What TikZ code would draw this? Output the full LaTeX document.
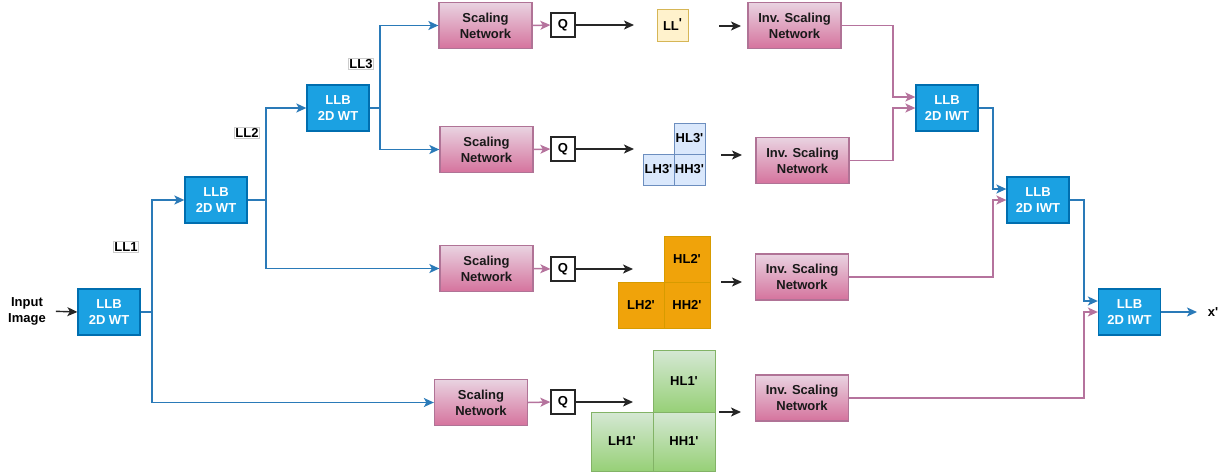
\documentclass[tikz,border=0pt]{standalone}
\usepackage{fontspec}
\setmainfont{Liberation Sans}[Ligatures=TeXOff]
\usetikzlibrary{arrows.meta,calc}
\definecolor{wtfill}{HTML}{1BA1E2}
\definecolor{wtline}{HTML}{006EAF}
\definecolor{bluearr}{HTML}{2A7AB8}
\definecolor{pinkarr}{HTML}{B5739D}
\definecolor{pinktop}{HTML}{E9D3E1}
\definecolor{pinkbot}{HTML}{D5739D}
\definecolor{pinkline}{HTML}{B07396}
\definecolor{yfill}{HTML}{FFF2CC}
\definecolor{yline}{HTML}{D6B656}
\definecolor{bfill}{HTML}{DAE8FC}
\definecolor{bline}{HTML}{6C8EBF}
\definecolor{ofill}{HTML}{F0A30A}
\definecolor{oline}{HTML}{D79B00}
\definecolor{gtop}{HTML}{D5E8D4}
\definecolor{gbot}{HTML}{97D077}
\definecolor{gline}{HTML}{82B366}
\tikzset{
  bf/.style={font=\bfseries\fontsize{13}{16}\selectfont},
  wt/.style={bf, draw=wtline, fill=wtfill, text=white, align=center, minimum width=62pt, minimum height=46pt, inner sep=0pt, line width=1.3pt},
  sc/.style={bf, draw=pinkline, top color=pinktop, bottom color=pinkbot, text=black!90, align=center, minimum width=93pt, minimum height=46pt, inner sep=0pt, line width=1.3pt},
  qbox/.style={bf, draw=black!85, fill=white, minimum width=24pt, minimum height=24pt, inner sep=0pt, line width=1.3pt},
  lbl/.style={bf, draw=black!20, fill=white, inner sep=1pt, line width=0.5pt},
  cellb/.style={bf, draw=bline, fill=bfill, minimum width=31pt, minimum height=31pt, inner sep=0pt, line width=0.8pt},
  cello/.style={bf, draw=oline, fill=ofill, minimum width=46pt, minimum height=46pt, inner sep=0pt, line width=0.8pt},
  cellg/.style={bf, draw=gline, top color=gtop, bottom color=gbot, minimum width=62pt, inner sep=0pt, line width=0.8pt},
  tip/.style={-{Stealth[length=10pt,width=9pt,inset=2.5pt]}},
  barr/.style={draw=bluearr, line width=1.5pt, tip},
  parr/.style={draw=pinkarr, line width=1.5pt, tip},
  karr/.style={draw=black!85, line width=1.4pt, tip},
}
\begin{document}
\begin{tikzpicture}[x=1pt,y=-1pt]
\useasboundingbox (0,0) rectangle (1231,474);
% analysis side
\node[bf, align=center, inner sep=0pt] (in) at (27,311) {Input\\Image};
\node[wt] (wt1) at (109,312) {LLB\\2D WT};
\node[wt] (wt2) at (216,200) {LLB\\2D WT};
\node[wt] (wt3) at (338,108) {LLB\\2D WT};
\node[lbl] (ll1) at (126,247) {LL1};
\node[lbl] (ll2) at (247,133) {LL2};
\node[lbl] (ll3) at (361,64) {LL3};
\coordinate (j1) at (152,312);
\coordinate (j2) at (266,200);
\coordinate (j3) at (380,108);
% scaling
\node[sc] (s1) at (485.5,25.5) {Scaling\\Network};
\node[sc] (s2) at (486.5,149.5) {Scaling\\Network};
\node[sc] (s3) at (486.5,268.5) {Scaling\\Network};
\node[sc] (s4) at (481,402.5) {Scaling\\Network};
\node[qbox] (q1) at (563,25) {Q};
\node[qbox] (q2) at (563,149) {Q};
\node[qbox] (q3) at (563,269) {Q};
\node[qbox] (q4) at (563,402) {Q};
\coordinate (e1) at (634,25);
\coordinate (e2) at (634,149);
\coordinate (e3) at (633,269);
\coordinate (e4) at (633,402);
% subbands
\node[bf, draw=yline, fill=yfill, minimum width=31pt, minimum height=32pt, inner sep=0pt, line width=0.8pt] (llp) at (672.5,25) {LL\raisebox{3pt}{'}};
\node[cellb] (hl3) at (689.5,138.5) {HL3'};
\node[cellb] (lh3) at (658.5,169.5) {LH3'};
\node[cellb] (hh3) at (689.5,169.5) {HH3'};
\node[cello] (hl2) at (687,259) {HL2'};
\node[cello] (lh2) at (641,305) {LH2'};
\node[cello] (hh2) at (687,305) {HH2'};
\node[cellg, minimum height=62pt] (hl1) at (684,381) {HL1'};
\node[cellg, minimum height=59pt] (lh1) at (622,441.5) {LH1'};
\node[cellg, minimum height=59pt] (hh1) at (684,441.5) {HH1'};
\coordinate (a1s) at (719,26);  \coordinate (a1e) at (741,26);
\coordinate (a2s) at (721,155); \coordinate (a2e) at (742,155);
\coordinate (a3s) at (721,282); \coordinate (a3e) at (742,282);
\coordinate (a4s) at (719,412); \coordinate (a4e) at (741,412);
% inverse scaling
\node[sc] (i1) at (794.5,25.5) {Inv. Scaling\\Network};
\node[sc] (i2) at (802.5,160.5) {Inv. Scaling\\Network};
\node[sc] (i3) at (802,277) {Inv. Scaling\\Network};
\node[sc] (i4) at (802,398) {Inv. Scaling\\Network};
% synthesis
\node[wt] (iwt1) at (947,108) {LLB\\2D IWT};
\node[wt] (iwt2) at (1038,200) {LLB\\2D IWT};
\node[wt] (iwt3) at (1129.5,312) {LLB\\2D IWT};
\node[bf, inner sep=0pt] (xo) at (1213,312) {x'};
\coordinate (m1) at (893,97);
\coordinate (m2) at (893,108);
\coordinate (b1) at (993,189);
\coordinate (m3) at (993,200);
\coordinate (b2) at (1084,301);
\coordinate (m4) at (1084,312);
\coordinate (xe) at (1197,312);
% connectors
\draw[karr, shorten <=10pt] (in.east) -- (wt1.west);
\draw[draw=bluearr, line width=1.5pt] (wt1.east) -- (j1);
\draw[barr] (j1) |- (wt2.west);
\draw[barr] (j1) |- (s4.west);
\draw[draw=bluearr, line width=1.5pt] (wt2.east) -- (j2);
\draw[barr] (j2) |- (wt3.west);
\draw[barr] (j2) |- (s3.west);
\draw[draw=bluearr, line width=1.5pt] (wt3.east) -- (j3);
\draw[barr] (j3) |- (s1.west);
\draw[barr] (j3) |- (s2.west);
\foreach \k in {1,2,3,4}{
  \draw[parr] (s\k.east) -- (q\k.west);
  \draw[karr] (q\k.east) -- (e\k);
  \draw[karr] (a\k s) -- (a\k e);
}
\draw[parr] (i1.east) -| (m1) -- (m1 -| iwt1.west);
\draw[parr] (i2.east) -| (m2) -- (iwt1.west);
\draw[barr] (iwt1.east) -| (b1) -- (b1 -| iwt2.west);
\draw[parr] (i3.east) -| (m3) -- (iwt2.west);
\draw[barr] (iwt2.east) -| (b2) -- (b2 -| iwt3.west);
\draw[parr] (i4.east) -| (m4) -- (iwt3.west);
\draw[barr] (iwt3.east) -- (xe);
\end{tikzpicture}
\end{document}
